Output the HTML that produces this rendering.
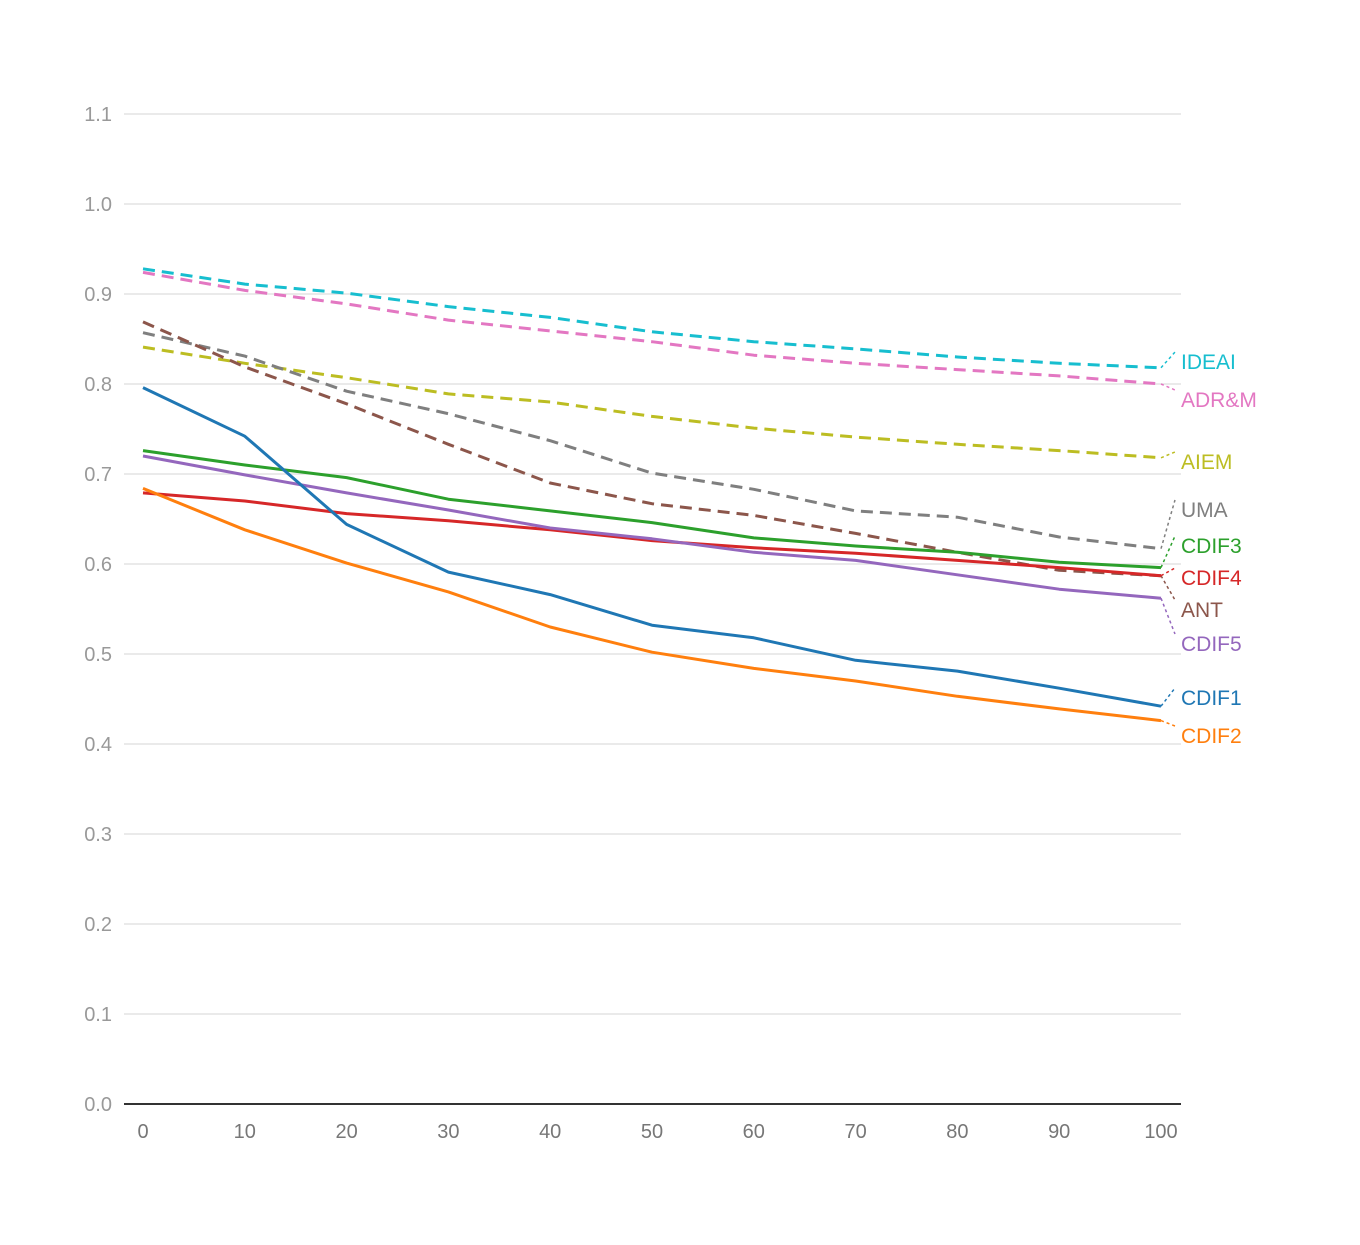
<!DOCTYPE html>
<html><head><meta charset="utf-8"><style>
body{margin:0;background:#fff;}
svg text{font-family:"Liberation Sans",sans-serif;}
</style></head><body>
<svg id="chart" width="1360" height="1240"></svg>
<script>
const xValues=[0,10,20,30,40,50,60,70,80,90,100];
const yTicks=[0,0.1,0.2,0.3,0.4,0.5,0.6,0.7,0.8,0.9,1.0,1.1];
const seriesNames=["IDEAI","ADR&M","AIEM","UMA","ANT","CDIF3","CDIF4","CDIF5","CDIF1","CDIF2"];
const seriesColors=["#17becf","#e377c2","#bcbd22","#7f7f7f","#8c564b","#2ca02c","#d62728","#9467bd","#1f77b4","#ff7f0e"];
const seriesDashed=[true,true,true,true,true,false,false,false,false,false];
const sIDEAI=[0.928,0.911,0.901,0.886,0.874,0.858,0.847,0.839,0.830,0.823,0.818];
const sADRM=[0.924,0.904,0.889,0.871,0.859,0.847,0.832,0.823,0.816,0.809,0.800];
const sAIEM=[0.841,0.823,0.807,0.789,0.780,0.764,0.751,0.741,0.733,0.726,0.718];
const sUMA=[0.857,0.831,0.792,0.767,0.737,0.701,0.683,0.659,0.652,0.630,0.617];
const sANT=[0.869,0.819,0.778,0.733,0.690,0.667,0.654,0.634,0.613,0.593,0.587];
const sCDIF3=[0.726,0.710,0.696,0.672,0.659,0.646,0.629,0.620,0.613,0.602,0.596];
const sCDIF4=[0.679,0.670,0.656,0.648,0.638,0.626,0.618,0.612,0.604,0.596,0.587];
const sCDIF5=[0.720,0.699,0.679,0.660,0.640,0.628,0.613,0.604,0.588,0.572,0.562];
const sCDIF1=[0.796,0.742,0.644,0.591,0.566,0.532,0.518,0.493,0.481,0.462,0.442];
const sCDIF2=[0.684,0.638,0.601,0.569,0.530,0.502,0.484,0.470,0.453,0.439,0.426];
const seriesValues=[sIDEAI,sADRM,sAIEM,sUMA,sANT,sCDIF3,sCDIF4,sCDIF5,sCDIF1,sCDIF2];
const labelYs=[362,400,462,510,610,546,578,644,698,736];

const NS="http://www.w3.org/2000/svg";
const svg=document.getElementById('chart');
const X=v=>143+(v-0)*(1161-143)/100;
const Y=v=>1104-v*900;
function mk(t,a){const e=document.createElementNS(NS,t);for(const k in a)e.setAttribute(k,a[k]);svg.appendChild(e);return e;}
yTicks.forEach((t,i)=>{
  if(t>0){const g=mk('line',{x1:124,x2:1181,y1:Y(t),y2:Y(t),stroke:'#e3e3e3','stroke-width':1.5});
  
  }
  const tx=mk('text',{x:112,y:Y(t)+7,'text-anchor':'end','font-size':20,fill:'#999'});
  tx.textContent=t.toFixed(1);
  
  
});
const ax=mk('line',{x1:124,x2:1181,y1:1104,y2:1104,stroke:'#333','stroke-width':2});


xValues.forEach(v=>{
  const tx=mk('text',{x:X(v),y:1138,'text-anchor':'middle','font-size':20,fill:'#777'});
  tx.textContent=v;
  
  
});
seriesNames.forEach((n,i)=>{
  const vals=seriesValues[i];
  const pts=vals.map((v,j)=>X(xValues[j])+','+Y(v)).join(' ');
  const a={points:pts,fill:'none',stroke:seriesColors[i],'stroke-width':3,'stroke-linejoin':'round'};
  if(seriesDashed[i])a['stroke-dasharray']='12,7';
  const p=mk('polyline',a);
  
  
  const last=vals[vals.length-1];
  const c=mk('line',{x1:X(100),y1:Y(last),x2:1175,y2:labelYs[i]-10,stroke:seriesColors[i],'stroke-width':1.5,'stroke-dasharray':'3,3'});
  
  
  const t=mk('text',{x:1181,y:labelYs[i]+7,'font-size':21,fill:seriesColors[i]});
  t.textContent=n;
  
  
});
</script>
</body></html>
